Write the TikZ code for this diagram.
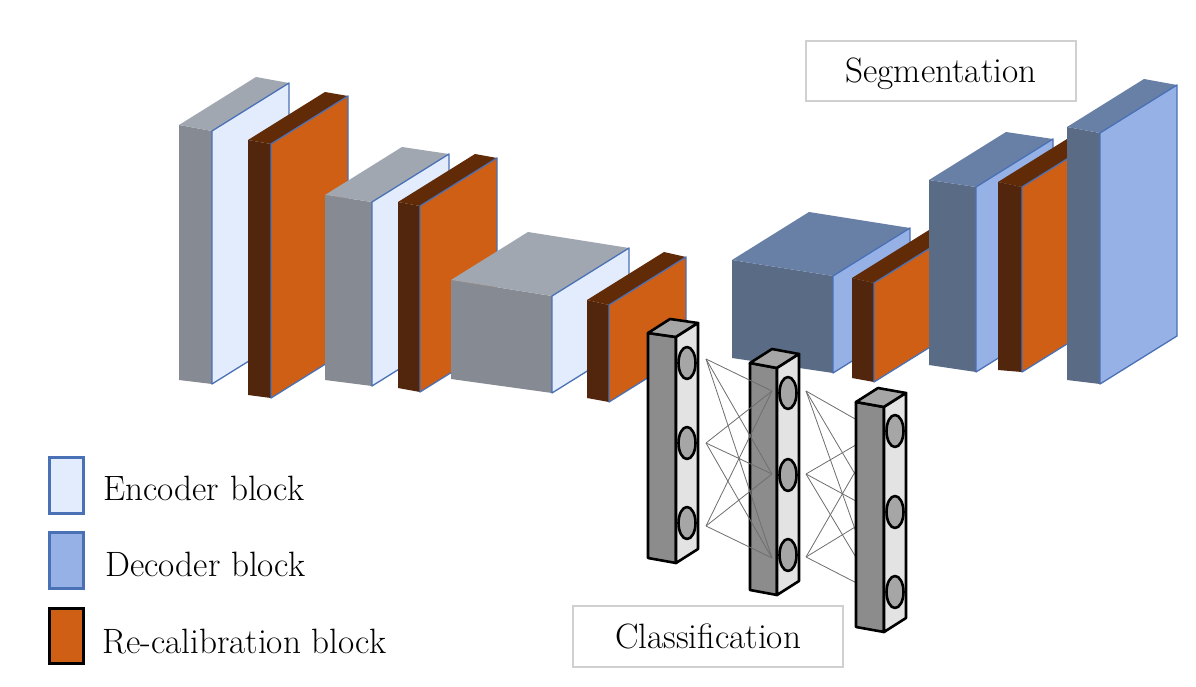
\documentclass[tikz,border=0pt]{standalone}
\usepackage{fontspec}
\usetikzlibrary{calc}
\definecolor{encF}{HTML}{868B93}
\definecolor{encT}{HTML}{A1A7B1}
\definecolor{encS}{HTML}{E2ECFC}
\definecolor{decF}{HTML}{5A6B86}
\definecolor{decT}{HTML}{687FA6}
\definecolor{decS}{HTML}{96B1E6}
\definecolor{recF}{HTML}{52260D}
\definecolor{recT}{HTML}{612B08}
\definecolor{recS}{HTML}{CF5F14}
\definecolor{edgeblue}{HTML}{4A70B5}
\definecolor{colF}{HTML}{8C8C8C}
\definecolor{colT}{HTML}{A6A6A6}
\definecolor{colS}{HTML}{E3E3E3}
\definecolor{boxgray}{HTML}{D0D0D0}
\definecolor{wire}{HTML}{6E6E6E}
\newcommand\myblk[7]{%
  \fill[#1] (#4) -- (#5) -- (#6) -- (#7) -- cycle;
  \fill[#2] (#4) -- (#5) -- ($(#5)+(77,-48)$) -- ($(#4)+(77,-48)$) -- cycle;
  \filldraw[fill=#3, draw=edgeblue, line width=1.3pt, line join=round] (#5) -- ($(#5)+(77,-48)$) -- ($(#6)+(77,-48)$) -- (#6) -- cycle;
}
\newcommand\mycol[5]{%
  \filldraw[fill=colF, colline] (#1) -- (#2) -- (#3) -- (#4) -- cycle;
  \filldraw[fill=colT, colline] (#1) -- (#2) -- ($(#2)+(22,-14)$) -- ($(#1)+(22,-14)$) -- cycle;
  \filldraw[fill=colS, colline] (#2) -- ($(#2)+(22,-14)$) -- ($(#3)+(22,-14)$) -- (#3) -- cycle;
  \foreach \yy in {#5} {\filldraw[fill=colT, colline] ($(#2)+(11,0)$) ++(0,\yy) ellipse [x radius=8.5, y radius=16];}
}
\tikzset{
  colline/.style={draw=black, line width=2.6pt, line join=round},
  wireline/.style={draw=wire, line width=0.8pt},
  labelbox/.style={draw=boxgray, line width=1.5pt, minimum width=270pt, inner sep=0pt, font=\fontsize{35.2}{42}\selectfont},
  legtext/.style={anchor=base west, inner sep=0pt, font=\fontsize{35.2}{42}\selectfont},
}
\begin{document}
\begin{tikzpicture}[x=1pt,y=-1pt]
\useasboundingbox (0,0) rectangle (1196,687);
\fill[white] (0,0) rectangle (1196,687);
% encoder side
\myblk{encF}{encT}{encS}{179,125}{212,131}{212,384}{179,380}
\myblk{recF}{recT}{recS}{248,140}{271,144}{271,398}{248,395}
\myblk{encF}{encT}{encS}{325,195}{372,202}{372,386}{325,380}
\myblk{recF}{recT}{recS}{398,202}{420,206}{420,392}{398,388}
\myblk{encF}{encT}{encS}{451,280}{552,296}{552,393}{451,379}
\myblk{recF}{recT}{recS}{587,300}{609,305}{609,402}{587,398}
% decoder side
\myblk{decF}{decT}{decS}{732,260}{833,276}{833,373}{732,358}
\myblk{recF}{recT}{recS}{852,278}{874,283}{874,382}{852,378}
\myblk{decF}{decT}{decS}{929,180}{976,187}{976,372}{929,365}
\myblk{recF}{recT}{recS}{998,182}{1022,187}{1022,372}{998,370}
\myblk{decF}{decT}{decS}{1067,127}{1100,133}{1100,384}{1067,380}
% classification columns
\mycol{648,333}{676,337}{676,563}{648,558}{26,106,186}
\mycol{750,363}{777,368}{777,595}{750,590}{25,107,187}
\coordinate (a1) at (706,359); \coordinate (a2) at (706,443); \coordinate (a3) at (706,526);
\coordinate (b1) at (772,391); \coordinate (b2) at (772,474); \coordinate (b3) at (772,558);
\coordinate (c1) at (806,391); \coordinate (c2) at (806,474); \coordinate (c3) at (806,557);
\coordinate (d1) at (878,432); \coordinate (d2) at (878,513); \coordinate (d3) at (878,594);
\foreach \i in {1,2,3} {\foreach \j in {1,2,3} {
  \draw[wireline] (a\i) -- (b\j);
  \draw[wireline] (c\i) -- (d\j);
}}
\mycol{856,402}{884,407}{884,632}{856,627}{24,105,185}
% labels
\node[labelbox, minimum height=60pt, text height=27pt, text depth=3pt] (seg) at (941,71) {Segmentation};
\node[labelbox, minimum height=61pt, text height=25pt, text depth=2pt] (cls) at (708,636.5) {Classification};
% legend
\filldraw[fill=encS, draw=edgeblue, line width=3pt] (49,457) rectangle (83,513);
\filldraw[fill=decS, draw=edgeblue, line width=3pt] (49,532) rectangle (83,588);
\filldraw[fill=recS, draw=black, line width=3pt] (49,608) rectangle (83,663);
\node[legtext] (lenc) at (103,500) {Encoder block};
\node[legtext] (ldec) at (105,576) {Decoder block};
\node[legtext] (lrec) at (102,653) {Re-calibration block};
\end{tikzpicture}
\end{document}
